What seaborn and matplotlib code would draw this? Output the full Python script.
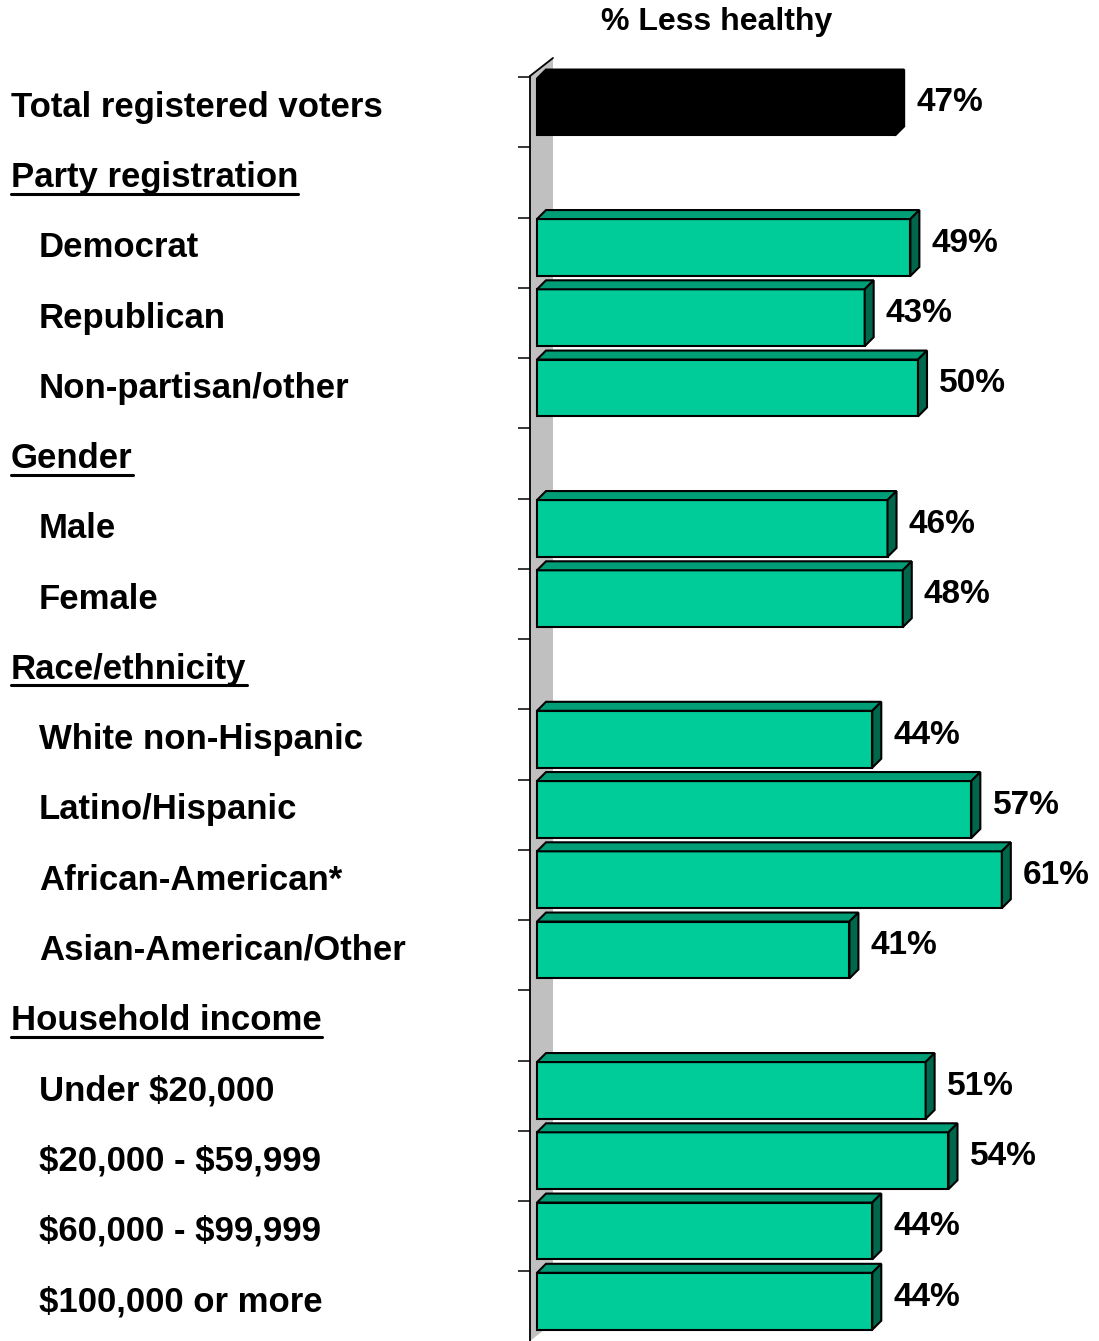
import numpy as np
import pandas as pd
import matplotlib.pyplot as plt
import seaborn as sns
from matplotlib.patches import Polygon
from matplotlib.transforms import blended_transform_factory

# DATA

row_labels = ["Total registered voters", "Party registration", "Democrat", "Republican",
              "Non-partisan/other", "Gender", "Male", "Female", "Race/ethnicity",
              "White non-Hispanic", "Latino/Hispanic", "African-American*",
              "Asian-American/Other", "Household income", "Under $20,000",
              "$20,000 - $59,999", "$60,000 - $99,999", "$100,000 or more"]
headers = ["Party registration", "Gender", "Race/ethnicity", "Household income"]
bar_labels = [l for l in row_labels if l not in headers]
less_healthy = [47, 49, 43, 50, 46, 48, 44, 57, 61, 41, 51, 54, 44, 44]
title = "% Less healthy"

df = pd.DataFrame({"label": bar_labels, "value": less_healthy})

FRONT = "#00CC99"
TOP = "#009E77"
SIDE = "#00664C"
palette = {l: FRONT for l in bar_labels}
palette["Total registered voters"] = "black"

sns.set_style("white")
plt.rcParams["font.family"] = ["Liberation Sans", "DejaVu Sans"]

W, H = 1099, 1341
fig = plt.figure(figsize=(W / 100, H / 100), dpi=100)
# axes: left edge = wall (px 530), 0% at px 537, 7.62 px per %
ax = fig.add_axes([530 / W, 0, (W - 530) / W, 1 - 56 / H])

sns.barplot(data=df, x="value", y="label", hue="label", order=row_labels,
            palette=palette, saturation=1, legend=False, orient="h", width=0.81,
            errorbar=None, edgecolor="black", linewidth=1.5, ax=ax, zorder=2)

px_per = 7.62
row_px = 70.25
ax.set_xlim(-7 / px_per, -7 / px_per + (W - 530) / px_per)
ax.set_ylim((1341 - 107) / row_px, (56 - 107) / row_px)

for s in ax.spines.values():
    s.set_visible(False)
ax.set_xticks([])
ax.set_yticks(np.arange(len(row_labels)) - 0.427)
ax.set_yticklabels([])
ax.tick_params(axis="y", which="major", direction="out", length=8.6, width=1.1,
               colors="black", left=True)
ax.set_xlabel("")
ax.set_ylabel("")
ax.grid(False)

# back wall
def to_x(px):
    return (px - 537) / px_per

def to_y(py):
    return (py - 107) / row_px

wall = Polygon([(to_x(530), to_y(76)), (to_x(553), to_y(58)),
                (to_x(553), to_y(1323)), (to_x(530), to_y(1341))],
               closed=True, facecolor="#C0C0C0", edgecolor="none",
               zorder=0.5, clip_on=False)
ax.add_patch(wall)
ax.plot([to_x(530), to_x(530)], [to_y(76), to_y(1341)], color="black", lw=1.3,
        zorder=0.6, clip_on=False)
ax.plot([to_x(530), to_x(553)], [to_y(76), to_y(58)], color="black", lw=1.3,
        zorder=0.6, clip_on=False)

# 3D faces of the bars
dx = 9 / px_per
dy = 9 / row_px
for p in list(ax.patches):
    if p is wall:
        continue
    x0, x1 = p.get_x(), p.get_x() + p.get_width()
    if not np.isfinite(x1) or p.get_width() == 0:
        continue
    yt, yb = p.get_y(), p.get_y() + p.get_height()
    if yt > yb:
        yt, yb = yb, yt
    fc = p.get_facecolor()
    black = fc[0] < 0.1 and fc[1] < 0.1 and fc[2] < 0.1
    top_c = "black" if black else TOP
    side_c = "black" if black else SIDE
    ax.add_patch(Polygon([(x0, yt), (x0 + dx, yt - dy), (x1 + dx, yt - dy), (x1, yt)],
                         closed=True, facecolor=top_c, edgecolor="black",
                         linewidth=1.5, zorder=2))
    ax.add_patch(Polygon([(x1, yt), (x1 + dx, yt - dy), (x1 + dx, yb - dy), (x1, yb)],
                         closed=True, facecolor=side_c, edgecolor="black",
                         linewidth=1.5, zorder=2))

# value labels
for lab, v in zip(bar_labels, less_healthy):
    r = row_labels.index(lab)
    ax.text(v + dx + 1.6, r + 0.064, f"{v}%", ha="left", va="baseline",
            fontsize=24, fontweight="bold", color="black", clip_on=False)

# row labels
trans = blended_transform_factory(fig.transFigure, ax.transData)
header_texts = []
for r, lab in enumerate(row_labels):
    indent = lab in headers or r == 0
    xpx = 11 if indent else 39
    t = fig.text(xpx / W, r + 0.14, lab, transform=trans, ha="left", va="baseline",
                 fontsize=25, fontweight="bold", color="black", parse_math=False)
    if lab in headers:
        header_texts.append((r, t))

fig.text(717 / W, 1 - 22 / H, title, ha="center", va="center",
         fontsize=23, fontweight="bold", color="black")

# underline section headers
fig.canvas.draw()
renderer = fig.canvas.get_renderer()
for r, t in header_texts:
    bb = t.get_window_extent(renderer)
    fig.add_artist(plt.Line2D([bb.x0 / W, bb.x1 / W], [r + 0.232, r + 0.232],
                              transform=trans, color="black", lw=2.2))

plt.savefig("out.png", dpi=100)
